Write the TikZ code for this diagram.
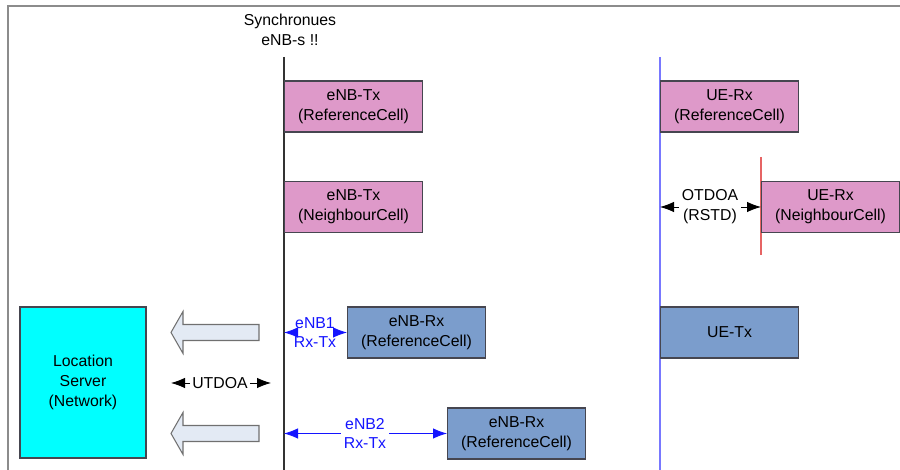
\documentclass[tikz,border=0pt]{standalone}
\usepackage{fontspec}
\setmainfont{Liberation Sans}
\usetikzlibrary{arrows.meta}

\definecolor{txpink}{RGB}{222,153,201}
\definecolor{rxblue}{RGB}{123,157,204}
\definecolor{srvcyan}{RGB}{0,255,255}
\definecolor{boxline}{RGB}{70,70,80}
\definecolor{ueline}{RGB}{120,120,255}
\definecolor{nbline}{RGB}{230,100,100}
\definecolor{sigblue}{RGB}{20,20,255}
\definecolor{fatfill}{RGB}{227,234,244}
\definecolor{frame}{RGB}{140,140,140}

\tikzset{
  cellbox/.style={draw=boxline, line width=0.6pt, anchor=west, minimum width=27.6mm,
    minimum height=10.2mm, inner sep=0pt, align=center},
  txcell/.style={cellbox, fill=txpink},
  rxcell/.style={cellbox, fill=rxblue},
  sig/.style={-{Latex[length=2.8mm,width=2.1mm]}, line width=0.5pt},
  bluesig/.style={sig, draw=sigblue},
  lbl/.style={inner sep=1.5pt, align=center},
  fatarrow/.style={draw=frame!80!black, fill=fatfill, line width=0.6pt}
}

\begin{document}
\begin{tikzpicture}[x=0.2mm, y=0.2mm, font=\fontsize{9}{11.3}\selectfont]
  \useasboundingbox (0,0) rectangle (900,470);

  % frame
  \draw[frame, line width=0.9pt] (8,0) -- (8,464) -- (900,464);

  % lifelines
  \coordinate (enbTop) at (284,413); \coordinate (enbBot) at (284,0);
  \coordinate (ueTop) at (660,413);  \coordinate (ueBot) at (660,0);
  \coordinate (nbTop) at (761,313);  \coordinate (nbBot) at (761,215);
  \draw[line width=0.6pt, black!80] (enbTop) -- (enbBot);
  \draw[line width=0.8pt, ueline] (ueTop) -- (ueBot);
  \draw[line width=0.6pt, nbline] (nbTop) -- (nbBot);

  \node[lbl] (sync) at (290,440) {Synchronues\\eNB-s !!};

  % eNB side
  \node[txcell] (txRef) at (284,363.5) {eNB-Tx\\(ReferenceCell)};
  \node[txcell] (txNb)  at (284,263)   {eNB-Tx\\(NeighbourCell)};
  \node[rxcell] (rxRef1) at (347,137.5) {eNB-Rx\\(ReferenceCell)};
  \node[rxcell] (rxRef2) at (447,36.5)  {eNB-Rx\\(ReferenceCell)};

  % UE side
  \node[txcell] (ueRxRef) at (660,363.5) {UE-Rx\\(ReferenceCell)};
  \node[txcell] (ueRxNb)  at (761,263)   {UE-Rx\\(NeighbourCell)};
  \node[rxcell] (ueTx)    at (660,137.5) {UE-Tx};

  % location server
  \node[draw=boxline, fill=srvcyan, line width=0.6pt, minimum width=25.2mm, minimum height=30.2mm,
    inner sep=0pt, align=center] (locSrv) at (83,87.5) {Location\\Server\\(Network)};

  % measurements
  \node[lbl] (otdoa) at (710,263) {OTDOA\\(RSTD)};
  \draw[sig] (otdoa) -- (otdoa -| ueTop);
  \draw[sig] (otdoa) -- (ueRxNb.west);

  \node[lbl, text=sigblue] (rxtx1) at (315,137.5) {eNB1\\Rx-Tx};
  \draw[bluesig] (rxtx1) -- (rxtx1 -| enbTop);
  \draw[bluesig] (rxtx1) -- (rxRef1.west);

  \node[lbl, text=sigblue] (rxtx2) at (365,36.5) {eNB2\\Rx-Tx};
  \draw[bluesig] (rxtx2) -- (rxtx2 -| enbTop);
  \draw[bluesig] (rxtx2) -- (rxRef2.west);

  \coordinate (utL) at (171,87); \coordinate (utR) at (271,87);
  \node[lbl, inner sep=1pt] (utdoa) at (220,87) {UTDOA};
  \draw[sig] (utdoa) -- (utL);
  \draw[sig] (utdoa) -- (utR);

  % reports to the server
  \foreach \yy in {137.5,36.5} {
    \draw[fatarrow] (259,\yy+8) -- (183,\yy+8) -- (183,\yy+21) -- (171,\yy)
      -- (183,\yy-21) -- (183,\yy-8) -- (259,\yy-8) -- cycle;
  }
\end{tikzpicture}
\end{document}
